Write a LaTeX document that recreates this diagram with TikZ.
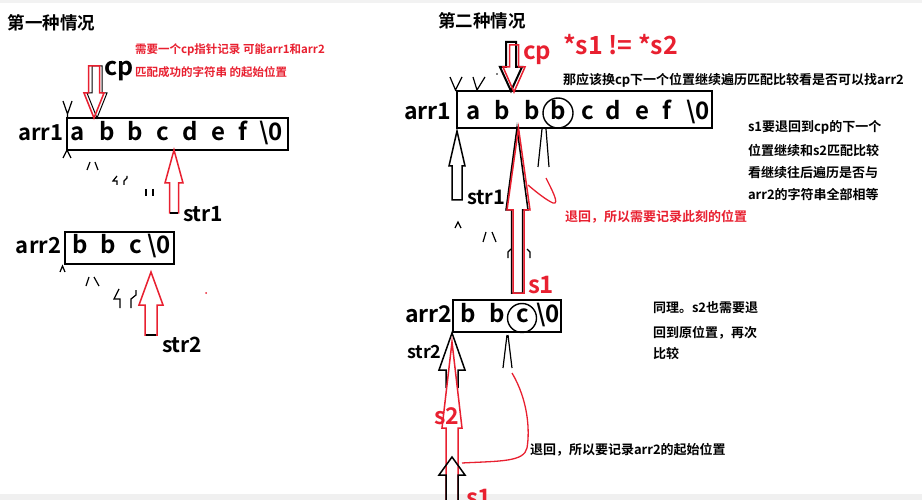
\documentclass[tikz,border=0pt]{standalone}
\usepackage{fontspec}
\setmainfont{Noto Sans CJK SC}[BoldFont={Noto Sans CJK SC Bold}]
\usepackage{tikz}

\definecolor{hlred}{RGB}{232,32,48}

% hollow block arrow: style, x, tip y, head y, end y, half head, half shaft
\newcommand{\blockarr}[7]{%
  \draw[#1] (#2,#3) -- ({#2+#6},#4) -- ({#2+#7},#4) -- ({#2+#7},#5)
    -- ({#2-#7},#5) -- ({#2-#7},#4) -- ({#2-#6},#4) -- cycle;}

\begin{document}
\begin{tikzpicture}[x=1pt, y=-1pt,
    every node/.style={inner sep=0pt, outer sep=0pt},
    cell/.style={anchor=base, font=\bfseries\fontsize{24}{26}\selectfont},
    arrlabel/.style={anchor=base west, font=\bfseries\fontsize{22}{24}\selectfont},
    ptrlabel/.style={anchor=base west, font=\bfseries\fontsize{21}{23}\selectfont},
    title/.style={anchor=west, font=\bfseries\fontsize{17.5}{20}\selectfont},
    note/.style={anchor=west, font=\bfseries\fontsize{13}{15}\selectfont},
    box/.style={draw, line width=1.8pt, anchor=north west},
    ring/.style={draw, circle, line width=1.4pt},
    stroke/.style={line width=1.2pt},
    redarr/.style={draw=hlred, line width=1.5pt},
    blkarr/.style={draw=black, line width=1.5pt}]
\useasboundingbox (0,0) rectangle (922,500);
\fill[gray!10] (0,0) rectangle (922,3);
\fill[gray!12] (0,494) rectangle (922,500);

% first case
\node[title] (t1) at (8,23) {第一种情况};
\node[note, text=hlred, font=\bfseries\fontsize{11.5}{13}\selectfont] (n1a) at (135,50) {需要一个cp指针记录 可能arr1和arr2};
\node[note, text=hlred, font=\bfseries\fontsize{11.5}{13}\selectfont] (n1b) at (135,72) {匹配成功的字符串 的起始位置};
\node[anchor=base west, font=\bfseries\fontsize{25}{27}\selectfont] (cp1) at (104,76) {cp};

\node[box, minimum width=221pt, minimum height=32pt] (la) at (67,118) {};
\node[arrlabel] (la-lbl) at (18,141) {arr1};
\foreach \ch/\x [count=\i] in {a/78,b/107,b/135,c/163,d/190,e/218,f/243,\textbackslash0/271}
  \node[cell] (la\i) at (\x,141) {\ch};

\node[box, minimum width=109pt, minimum height=32pt] (lb) at (65,232) {};
\node[arrlabel] (lb-lbl) at (16,254) {arr2};
\foreach \ch/\x [count=\i] in {b/80,b/108,c/136,\textbackslash0/159}
  \node[cell] (lb\i) at (\x,254) {\ch};

\blockarr{blkarr, line width=1pt}{97}{118}{93}{66}{10}{5}
\blockarr{redarr}{94}{118}{93}{66}{10}{5.5}
\blockarr{redarr}{174}{150}{183}{213}{9}{4.5}
\draw[line width=2pt] (170,213) -- (178,213);
\node[ptrlabel] (s1l) at (183,222) {str1};
\blockarr{redarr}{151}{272}{305}{335}{12}{6}
\draw[line width=2pt] (146,335) -- (156,335);
\node[ptrlabel] (s2l) at (162,352) {str2};

% leftover strokes
\draw[stroke] (63,101) -- (67.5,114) -- (72,101) (67.5,114) -- (67.5,118);
\draw[stroke] (63,158) -- (67,150) -- (71,158);
\draw[stroke] (87,170) -- (90,162) (95,162) -- (98,170);
\draw[stroke] (117,176) -- (113,181) -- (117,181) -- (117,185);
\draw[stroke] (124,185) -- (124,181) -- (127,178) -- (127,176);
\draw[stroke] (146,189) -- (146,196) (153,189) -- (153,196);
\draw[stroke] (60,272) -- (62.5,266) -- (65,272);
\draw[stroke] (86,286) -- (89,277) (94,277) -- (99,286);
\draw[stroke] (119,289) -- (114,299) -- (120,299) -- (120,308);
\draw[stroke] (131,308) -- (131,299) -- (136,295) -- (136,290);
\fill[hlred] (206,293) circle (1pt);

% second case
\node[title] (t2) at (438,21) {第二种情况};
\node[anchor=base west, text=hlred, font=\bfseries\fontsize{24}{26}\selectfont] (cp2) at (523,60) {cp};
\node[anchor=base west, text=hlred, font=\bfseries\fontsize{25}{27}\selectfont] (neq) at (563,55) {*s1 != *s2};
\node[note] (n2a) at (563,80) {那应该换cp下一个位置继续遍历匹配比较看是否可以找arr2};

\node[box, minimum width=255pt, minimum height=37pt] (ra) at (457,91) {};
\node[arrlabel, font=\bfseries\fontsize{23}{25}\selectfont] (ra-lbl) at (404,120) {arr1};
\foreach \ch/\x [count=\i] in {a/474,b/502,b/532,b/558,c/588,d/613,e/642,f/667,\textbackslash0/698}
  \node[cell] (ra\i) at (\x,120) {\ch};
\node[ring, minimum size=30pt] (rb-ring) at (558,113) {};

\node[box, minimum width=108pt, minimum height=32pt] (rb) at (453,300) {};
\node[arrlabel, font=\bfseries\fontsize{23}{25}\selectfont] (rb-lbl) at (405,322) {arr2};
\foreach \ch/\x [count=\i] in {b/468,b/497,c/523,\textbackslash0/548}
  \node[cell] (rb\i) at (\x,322) {\ch};
\node[ring, minimum size=29pt] (rc-ring) at (522,318) {};

\draw[stroke] (450,77) -- (455.5,90) -- (462,77);
\draw[stroke] (473,77) -- (477,90) -- (485,77);
\fill (497,74) circle (0.8pt);

\blockarr{blkarr, line width=2pt}{511}{91}{67}{42}{11}{5}
\blockarr{redarr}{514}{92}{67}{45}{11}{4.5}

\blockarr{blkarr}{457}{131}{166}{200}{8}{5}
\node[ptrlabel, font=\bfseries\fontsize{20}{22}\selectfont] (rs1l) at (467,205) {str1};
\blockarr{blkarr}{517}{128}{210}{293}{11}{5.5}
\blockarr{redarr}{518.5}{128}{210}{293}{11.5}{5.5}
\node[ptrlabel, text=hlred, font=\bfseries\fontsize{24}{26}\selectfont] (rs1) at (528,293) {s1};
\draw[stroke] (542,129) -- (538,167) (546,129) -- (549,167);
\draw[hlred, line width=1.3pt] (546,178) .. controls (552,190) and (560,205) .. (553,203)
  .. controls (546,200) and (535,191) .. (528,185);
\node[note, text=hlred] (n2b) at (565,217) {退回，所以需要记录此刻的位置};

\node[note] (n2c) at (748,127) {s1要退回到cp的下一个};
\node[note] (n2d) at (748,150) {位置继续和s2匹配比较};
\node[note] (n2e) at (748,173) {看继续往后遍历是否与};
\node[note] (n2f) at (748,195) {arr2的字符串全部相等};

\draw[stroke] (455,228) -- (458,222) -- (461,228);
\draw[stroke] (483,242) -- (486,232) (492,232) -- (496,242);
\draw[stroke] (508,258) -- (508,252) -- (511,249) (530,258) -- (530,252) -- (527,249);

% str2 and s2 on arr2
\draw[blkarr] (446,388) -- (446,370) -- (439,370) -- (452,333) -- (465,370) -- (458,370) -- (458,388);
\node[anchor=base west, font=\bfseries\fontsize{18}{20}\selectfont] (rs2l) at (407,358) {str2};
\blockarr{redarr}{452}{342}{428}{510}{10}{6}
\node[ptrlabel, text=hlred, font=\bfseries\fontsize{23}{25}\selectfont] (rs2) at (434,424) {s2};
\blockarr{blkarr}{452}{457}{475}{510}{13}{6}
\node[anchor=north west, text=hlred, font=\bfseries\fontsize{24}{26}\selectfont] (rs1b) at (466,489) {s1};
\draw[stroke] (507,335) -- (503,368) (508,335) -- (512,368);
\draw[hlred, line width=1.3pt] (512,373) .. controls (528,400) and (530,430) .. (527,448)
  .. controls (524,462) and (500,461) .. (462,463);
\node[note] (n2g) at (530,450) {退回，所以要记录arr2的起始位置};

\node[note] (n2h) at (653,308) {同理。s2也需要退};
\node[note] (n2i) at (653,333) {回到原位置，再次};
\node[note] (n2j) at (653,354) {比较};
\end{tikzpicture}
\end{document}
